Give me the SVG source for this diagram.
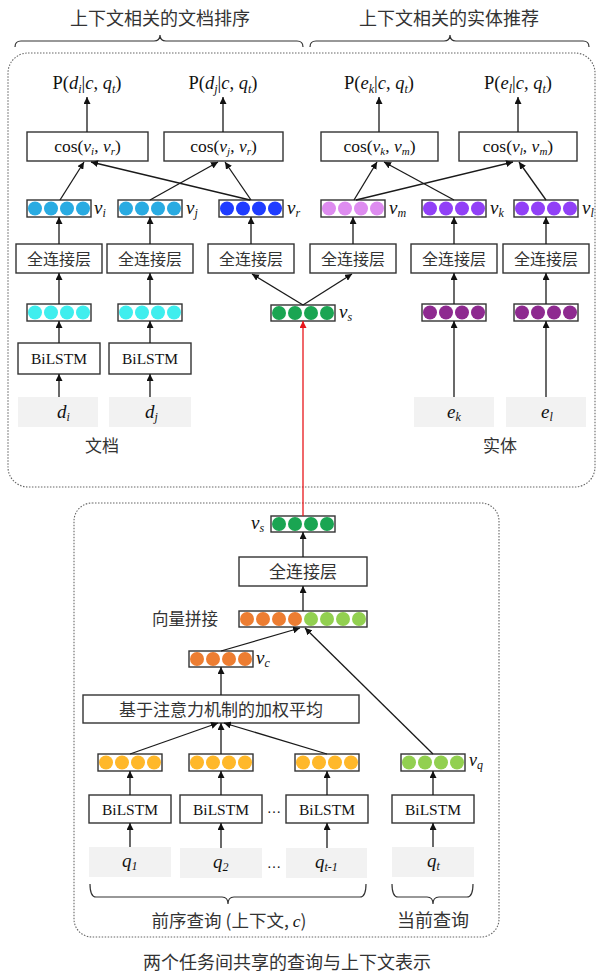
<svg xmlns="http://www.w3.org/2000/svg" width="598" height="975" viewBox="0 0 598 975">
<style>
.cn{font-family:"Noto Sans CJK SC","Noto Sans",sans-serif;fill:#333}
.m{font-family:"Liberation Serif",serif;fill:#111}
.i{font-style:italic}
.box{fill:#fff;stroke:#333;stroke-width:1.4}
.vec{fill:#fff;stroke:#333;stroke-width:1.4}
.inp{fill:#f2f2f2;stroke:none}
.ln{stroke:#1a1a1a;stroke-width:1.3;fill:none;marker-end:url(#ah)}
.dot{fill:none;stroke:#666;stroke-width:1.1;stroke-dasharray:1.5 1.5}
.br{fill:none;stroke:#333;stroke-width:1.2}
.c1{fill:#29abe2}.c2{fill:#1f3cff}.c3{fill:#3feeee}.c4{fill:#1aa552}
.c5{fill:#de8cf0}.c6{fill:#9140f7}.c7{fill:#8e2a90}.c8{fill:#ed7d31}
.c9{fill:#92d050}.c10{fill:#ffb82a}
</style>
<defs>
<marker id="ah" viewBox="0 0 10 10" refX="10" refY="5" markerWidth="7" markerHeight="7" markerUnits="userSpaceOnUse" orient="auto"><path d="M0,0 L10,5 L0,10 z" fill="#111"/></marker>
<marker id="ahr" viewBox="0 0 10 10" refX="10" refY="5" markerWidth="7" markerHeight="7" markerUnits="userSpaceOnUse" orient="auto"><path d="M0,0 L10,5 L0,10 z" fill="#e8161b"/></marker>
</defs>

<!-- frames and titles -->
<g id="frames">
<rect class="dot" x="8" y="53" width="587" height="434" rx="20"/>
<rect class="dot" x="74" y="503" width="425" height="434" rx="18"/>
<text class="cn" x="160" y="25" font-size="18" text-anchor="middle">上下文相关的文档排序</text>
<text class="cn" x="449" y="25" font-size="18" text-anchor="middle">上下文相关的实体推荐</text>
<path class="br" d="M15,47 Q15,41 21,41 L154,41 Q160,41 160,35 Q160,41 166,41 L297,41 Q303,41 303,47"/>
<path class="br" d="M310,47 Q310,41 316,41 L444,41 Q450,41 450,35 Q450,41 456,41 L583,41 Q589,41 589,47"/>
<text class="cn" x="102" y="452" font-size="17" text-anchor="middle">文档</text>
<text class="cn" x="500" y="452" font-size="17" text-anchor="middle">实体</text>
<path class="br" d="M90,884 Q90,897 96,897 L222,897 Q228,897 228,904 Q228,897 234,897 L360,897 Q366,897 366,884"/>
<path class="br" d="M392,884 Q392,897 398,897 L427,897 Q433,897 433,904 Q433,897 439,897 L467,897 Q473,897 473,884"/>
<text class="cn" x="229" y="927" font-size="17.5" text-anchor="middle">前序查询 (上下文, <tspan class="m i">c</tspan>)</text>
<text class="cn" x="433" y="927" font-size="18" text-anchor="middle">当前查询</text>
<text class="cn" x="287" y="969" font-size="18" text-anchor="middle">两个任务间共享的查询与上下文表示</text>
</g>

<!-- probability labels -->
<g id="p_di"><text class="m" x="87" y="89" font-size="18.5" text-anchor="middle">P(<tspan class="i">d</tspan><tspan class="i" font-size="12" dy="4">i</tspan><tspan dy="-4">|</tspan><tspan class="i">c</tspan>, <tspan class="i">q</tspan><tspan class="i" font-size="12" dy="4">t</tspan><tspan dy="-4">)</tspan></text></g>
<g id="p_dj"><text class="m" x="223" y="89" font-size="18.5" text-anchor="middle">P(<tspan class="i">d</tspan><tspan class="i" font-size="12" dy="4">j</tspan><tspan dy="-4">|</tspan><tspan class="i">c</tspan>, <tspan class="i">q</tspan><tspan class="i" font-size="12" dy="4">t</tspan><tspan dy="-4">)</tspan></text></g>
<g id="p_ek"><text class="m" x="379" y="89" font-size="18.5" text-anchor="middle">P(<tspan class="i">e</tspan><tspan class="i" font-size="12" dy="4">k</tspan><tspan dy="-4">|</tspan><tspan class="i">c</tspan>, <tspan class="i">q</tspan><tspan class="i" font-size="12" dy="4">t</tspan><tspan dy="-4">)</tspan></text></g>
<g id="p_el"><text class="m" x="518" y="89" font-size="18.5" text-anchor="middle">P(<tspan class="i">e</tspan><tspan class="i" font-size="12" dy="4">l</tspan><tspan dy="-4">|</tspan><tspan class="i">c</tspan>, <tspan class="i">q</tspan><tspan class="i" font-size="12" dy="4">t</tspan><tspan dy="-4">)</tspan></text></g>

<!-- cos boxes -->
<g id="cos1"><rect class="box" x="27" y="132" width="121" height="29"/><text class="m" x="87.5" y="152" font-size="17.5" text-anchor="middle">cos(<tspan class="i">v</tspan><tspan class="i" font-size="11" dy="3">i</tspan><tspan dy="-3">, </tspan><tspan class="i">v</tspan><tspan class="i" font-size="11" dy="3">r</tspan><tspan dy="-3">)</tspan></text></g>
<g id="cos2"><rect class="box" x="164" y="132" width="119" height="29"/><text class="m" x="223.5" y="152" font-size="17.5" text-anchor="middle">cos(<tspan class="i">v</tspan><tspan class="i" font-size="11" dy="3">j</tspan><tspan dy="-3">, </tspan><tspan class="i">v</tspan><tspan class="i" font-size="11" dy="3">r</tspan><tspan dy="-3">)</tspan></text></g>
<g id="cos3"><rect class="box" x="321" y="132" width="117" height="29"/><text class="m" x="379.5" y="152" font-size="17.5" text-anchor="middle">cos(<tspan class="i">v</tspan><tspan class="i" font-size="11" dy="3">k</tspan><tspan dy="-3">, </tspan><tspan class="i">v</tspan><tspan class="i" font-size="11" dy="3">m</tspan><tspan dy="-3">)</tspan></text></g>
<g id="cos4"><rect class="box" x="459" y="132" width="118" height="29"/><text class="m" x="518" y="152" font-size="17.5" text-anchor="middle">cos(<tspan class="i">v</tspan><tspan class="i" font-size="11" dy="3">l</tspan><tspan dy="-3">, </tspan><tspan class="i">v</tspan><tspan class="i" font-size="11" dy="3">m</tspan><tspan dy="-3">)</tspan></text></g>

<!-- upper vectors -->
<g id="vi"><rect class="vec" x="27" y="200" width="64" height="17"/><circle class="c1" cx="35" cy="208.5" r="7"/><circle class="c1" cx="51" cy="208.5" r="7"/><circle class="c1" cx="67" cy="208.5" r="7"/><circle class="c1" cx="83" cy="208.5" r="7"/><text class="m i" x="94" y="214" font-size="19">v<tspan font-size="12" dy="3">i</tspan></text></g>
<g id="vj"><rect class="vec" x="118" y="200" width="64" height="17"/><circle class="c1" cx="126" cy="208.5" r="7"/><circle class="c1" cx="142" cy="208.5" r="7"/><circle class="c1" cx="158" cy="208.5" r="7"/><circle class="c1" cx="174" cy="208.5" r="7"/><text class="m i" x="186" y="214" font-size="19">v<tspan font-size="12" dy="3">j</tspan></text></g>
<g id="vr"><rect class="vec" x="219" y="200" width="64" height="17"/><circle class="c2" cx="227" cy="208.5" r="7"/><circle class="c2" cx="243" cy="208.5" r="7"/><circle class="c2" cx="259" cy="208.5" r="7"/><circle class="c2" cx="275" cy="208.5" r="7"/><text class="m i" x="287" y="214" font-size="19">v<tspan font-size="12" dy="3">r</tspan></text></g>
<g id="vm"><rect class="vec" x="321" y="200" width="64" height="17"/><circle class="c5" cx="329" cy="208.5" r="7"/><circle class="c5" cx="345" cy="208.5" r="7"/><circle class="c5" cx="361" cy="208.5" r="7"/><circle class="c5" cx="377" cy="208.5" r="7"/><text class="m i" x="389" y="214" font-size="19">v<tspan font-size="12" dy="3">m</tspan></text></g>
<g id="vk"><rect class="vec" x="422" y="200" width="64" height="17"/><circle class="c6" cx="430" cy="208.5" r="7"/><circle class="c6" cx="446" cy="208.5" r="7"/><circle class="c6" cx="462" cy="208.5" r="7"/><circle class="c6" cx="478" cy="208.5" r="7"/><text class="m i" x="490" y="214" font-size="19">v<tspan font-size="12" dy="3">k</tspan></text></g>
<g id="vl"><rect class="vec" x="514" y="200" width="64" height="17"/><circle class="c6" cx="522" cy="208.5" r="7"/><circle class="c6" cx="538" cy="208.5" r="7"/><circle class="c6" cx="554" cy="208.5" r="7"/><circle class="c6" cx="570" cy="208.5" r="7"/><text class="m i" x="582" y="214" font-size="19">v<tspan font-size="12" dy="3">l</tspan></text></g>

<!-- upper FC layers -->
<g id="fc_i"><rect class="box" x="16" y="244" width="86" height="29"/><text class="cn" x="59" y="264.5" font-size="16" text-anchor="middle">全连接层</text></g>
<g id="fc_j"><rect class="box" x="107" y="244" width="86" height="29"/><text class="cn" x="150" y="264.5" font-size="16" text-anchor="middle">全连接层</text></g>
<g id="fc_r"><rect class="box" x="208" y="244" width="86" height="29"/><text class="cn" x="251" y="264.5" font-size="16" text-anchor="middle">全连接层</text></g>
<g id="fc_m"><rect class="box" x="310" y="244" width="86" height="29"/><text class="cn" x="353" y="264.5" font-size="16" text-anchor="middle">全连接层</text></g>
<g id="fc_k"><rect class="box" x="411" y="244" width="86" height="29"/><text class="cn" x="454" y="264.5" font-size="16" text-anchor="middle">全连接层</text></g>
<g id="fc_l"><rect class="box" x="503" y="244" width="86" height="29"/><text class="cn" x="546" y="264.5" font-size="16" text-anchor="middle">全连接层</text></g>

<!-- upper embeddings -->
<g id="hd_i"><rect class="vec" x="27" y="304" width="64" height="17"/><circle class="c3" cx="35" cy="312.5" r="7"/><circle class="c3" cx="51" cy="312.5" r="7"/><circle class="c3" cx="67" cy="312.5" r="7"/><circle class="c3" cx="83" cy="312.5" r="7"/></g>
<g id="hd_j"><rect class="vec" x="118" y="304" width="64" height="17"/><circle class="c3" cx="126" cy="312.5" r="7"/><circle class="c3" cx="142" cy="312.5" r="7"/><circle class="c3" cx="158" cy="312.5" r="7"/><circle class="c3" cx="174" cy="312.5" r="7"/></g>
<g id="vs_top"><rect class="vec" x="271" y="305" width="64" height="16"/><circle class="c4" cx="279" cy="313" r="7"/><circle class="c4" cx="295" cy="313" r="7"/><circle class="c4" cx="311" cy="313" r="7"/><circle class="c4" cx="327" cy="313" r="7"/><text class="m i" x="339" y="318" font-size="19">v<tspan font-size="12" dy="3">s</tspan></text></g>
<g id="he_k"><rect class="vec" x="422" y="304" width="64" height="17"/><circle class="c7" cx="430" cy="312.5" r="7"/><circle class="c7" cx="446" cy="312.5" r="7"/><circle class="c7" cx="462" cy="312.5" r="7"/><circle class="c7" cx="478" cy="312.5" r="7"/></g>
<g id="he_l"><rect class="vec" x="514" y="304" width="64" height="17"/><circle class="c7" cx="522" cy="312.5" r="7"/><circle class="c7" cx="538" cy="312.5" r="7"/><circle class="c7" cx="554" cy="312.5" r="7"/><circle class="c7" cx="570" cy="312.5" r="7"/></g>

<!-- upper BiLSTM and inputs -->
<g id="bl_i"><rect class="box" x="18" y="343" width="82" height="31"/><text class="m" x="59" y="364" font-size="15.5" text-anchor="middle">BiLSTM</text></g>
<g id="bl_j"><rect class="box" x="109" y="343" width="82" height="31"/><text class="m" x="150" y="364" font-size="15.5" text-anchor="middle">BiLSTM</text></g>
<g id="d_i"><rect class="inp" x="18" y="397" width="80" height="30"/><text class="m i" x="57" y="418" font-size="19">d<tspan font-size="12" dy="3">i</tspan></text></g>
<g id="d_j"><rect class="inp" x="109" y="397" width="82" height="30"/><text class="m i" x="145" y="418" font-size="19">d<tspan font-size="12" dy="3">j</tspan></text></g>
<g id="e_k"><rect class="inp" x="414" y="397" width="80" height="30"/><text class="m i" x="447" y="418" font-size="19">e<tspan font-size="12" dy="3">k</tspan></text></g>
<g id="e_l"><rect class="inp" x="506" y="397" width="80" height="30"/><text class="m i" x="541" y="418" font-size="19">e<tspan font-size="12" dy="3">l</tspan></text></g>

<!-- lower section -->
<g id="vs_bot"><rect class="vec" x="271" y="516" width="64" height="16"/><circle class="c4" cx="279" cy="524" r="7"/><circle class="c4" cx="295" cy="524" r="7"/><circle class="c4" cx="311" cy="524" r="7"/><circle class="c4" cx="327" cy="524" r="7"/><text class="m i" x="251" y="529" font-size="19">v<tspan font-size="12" dy="3">s</tspan></text></g>
<g id="fc_low"><rect class="box" x="239" y="557" width="128" height="29"/><text class="cn" x="303" y="578" font-size="17" text-anchor="middle">全连接层</text></g>
<g id="concat"><rect class="vec" x="239" y="611" width="128" height="16"/><circle class="c8" cx="247" cy="619" r="7"/><circle class="c8" cx="263" cy="619" r="7"/><circle class="c8" cx="279" cy="619" r="7"/><circle class="c8" cx="295" cy="619" r="7"/><circle class="c9" cx="311" cy="619" r="7"/><circle class="c9" cx="327" cy="619" r="7"/><circle class="c9" cx="343" cy="619" r="7"/><circle class="c9" cx="359" cy="619" r="7"/><text class="cn" x="185" y="625" font-size="16.5" text-anchor="middle">向量拼接</text></g>
<g id="vc"><rect class="vec" x="189" y="651" width="64" height="16"/><circle class="c8" cx="197" cy="659" r="7"/><circle class="c8" cx="213" cy="659" r="7"/><circle class="c8" cx="229" cy="659" r="7"/><circle class="c8" cx="245" cy="659" r="7"/><text class="m i" x="256" y="664" font-size="19">v<tspan font-size="12" dy="3">c</tspan></text></g>
<g id="attn"><rect class="box" x="83" y="695" width="276" height="28"/><text class="cn" x="221" y="715.5" font-size="17" text-anchor="middle">基于注意力机制的加权平均</text></g>

<g id="h1"><rect class="vec" x="98" y="754" width="64" height="17"/><circle class="c10" cx="106" cy="762.5" r="7"/><circle class="c10" cx="122" cy="762.5" r="7"/><circle class="c10" cx="138" cy="762.5" r="7"/><circle class="c10" cx="154" cy="762.5" r="7"/></g>
<g id="h2"><rect class="vec" x="189" y="754" width="64" height="17"/><circle class="c10" cx="197" cy="762.5" r="7"/><circle class="c10" cx="213" cy="762.5" r="7"/><circle class="c10" cx="229" cy="762.5" r="7"/><circle class="c10" cx="245" cy="762.5" r="7"/></g>
<g id="h3"><rect class="vec" x="295" y="754" width="64" height="17"/><circle class="c10" cx="303" cy="762.5" r="7"/><circle class="c10" cx="319" cy="762.5" r="7"/><circle class="c10" cx="335" cy="762.5" r="7"/><circle class="c10" cx="351" cy="762.5" r="7"/></g>
<g id="vq"><rect class="vec" x="401" y="754" width="64" height="17"/><circle class="c9" cx="409" cy="762.5" r="7"/><circle class="c9" cx="425" cy="762.5" r="7"/><circle class="c9" cx="441" cy="762.5" r="7"/><circle class="c9" cx="457" cy="762.5" r="7"/><text class="m i" x="469" y="766" font-size="18">v<tspan font-size="12" dy="3">q</tspan></text></g>

<g id="bl1"><rect class="box" x="89" y="795" width="82" height="28"/><text class="m" x="130" y="814.5" font-size="15.5" text-anchor="middle">BiLSTM</text></g>
<g id="bl2"><rect class="box" x="180" y="795" width="82" height="28"/><text class="m" x="221" y="814.5" font-size="15.5" text-anchor="middle">BiLSTM</text></g>
<g id="bl3"><rect class="box" x="286" y="795" width="82" height="28"/><text class="m" x="327" y="814.5" font-size="15.5" text-anchor="middle">BiLSTM</text></g>
<g id="bl4"><rect class="box" x="392" y="795" width="82" height="28"/><text class="m" x="433" y="814.5" font-size="15.5" text-anchor="middle">BiLSTM</text></g>
<text class="m" x="274" y="813" font-size="14" text-anchor="middle">…</text>

<g id="q1"><rect class="inp" x="89" y="847" width="82" height="30"/><text class="m i" x="122" y="867" font-size="19">q<tspan font-size="12" dy="3">1</tspan></text></g>
<g id="q2"><rect class="inp" x="180" y="848" width="82" height="30"/><text class="m i" x="213" y="868" font-size="19">q<tspan font-size="12" dy="3">2</tspan></text></g>
<g id="qt1"><rect class="inp" x="286" y="848" width="81" height="30"/><text class="m i" x="315" y="868" font-size="19">q<tspan font-size="12" dy="3">t-1</tspan></text></g>
<g id="qt"><rect class="inp" x="392" y="847" width="82" height="30"/><text class="m i" x="427" y="867" font-size="19">q<tspan font-size="12" dy="3">t</tspan></text></g>
<text class="m" x="274" y="868" font-size="14" text-anchor="middle">…</text>

<!-- connectors -->
<g id="connectors">
<line class="ln" x1="87" y1="132" x2="87" y2="97"/>
<line class="ln" x1="223" y1="132" x2="223" y2="97"/>
<line class="ln" x1="379" y1="132" x2="379" y2="97"/>
<line class="ln" x1="518" y1="132" x2="518" y2="97"/>
<line class="ln" x1="60" y1="200" x2="84" y2="162"/>
<line class="ln" x1="250" y1="200" x2="91" y2="162"/>
<line class="ln" x1="150" y1="200" x2="218" y2="162"/>
<line class="ln" x1="251" y1="200" x2="225" y2="162"/>
<line class="ln" x1="354" y1="200" x2="377" y2="162"/>
<line class="ln" x1="454" y1="200" x2="384" y2="162"/>
<line class="ln" x1="356" y1="200" x2="513" y2="162"/>
<line class="ln" x1="546" y1="200" x2="519" y2="162"/>
<line class="ln" x1="59" y1="244" x2="59" y2="217"/>
<line class="ln" x1="150" y1="244" x2="150" y2="217"/>
<line class="ln" x1="251" y1="244" x2="251" y2="217"/>
<line class="ln" x1="353" y1="244" x2="353" y2="217"/>
<line class="ln" x1="454" y1="244" x2="454" y2="217"/>
<line class="ln" x1="546" y1="244" x2="546" y2="217"/>
<line class="ln" x1="59" y1="304" x2="59" y2="273"/>
<line class="ln" x1="150" y1="304" x2="150" y2="273"/>
<line class="ln" x1="303" y1="305" x2="252" y2="274"/>
<line class="ln" x1="303" y1="305" x2="352" y2="274"/>
<line class="ln" x1="454" y1="304" x2="454" y2="273"/>
<line class="ln" x1="546" y1="304" x2="546" y2="273"/>
<line class="ln" x1="59" y1="343" x2="59" y2="321"/>
<line class="ln" x1="150" y1="343" x2="150" y2="321"/>
<line class="ln" x1="59" y1="397" x2="59" y2="374"/>
<line class="ln" x1="150" y1="397" x2="150" y2="374"/>
<line class="ln" x1="454" y1="397" x2="454" y2="321"/>
<line class="ln" x1="546" y1="397" x2="546" y2="321"/>
<line x1="303" y1="516" x2="303" y2="321" stroke="#e8161b" stroke-width="1.3" marker-end="url(#ahr)"/>
<line class="ln" x1="303" y1="557" x2="303" y2="532"/>
<line class="ln" x1="303" y1="611" x2="303" y2="586"/>
<line class="ln" x1="221" y1="651" x2="300" y2="628"/>
<line class="ln" x1="433" y1="754" x2="305" y2="628"/>
<line class="ln" x1="221" y1="695" x2="221" y2="667"/>
<line class="ln" x1="130" y1="754" x2="218" y2="723"/>
<line class="ln" x1="221" y1="754" x2="221" y2="723"/>
<line class="ln" x1="327" y1="754" x2="224" y2="723"/>
<line class="ln" x1="130" y1="795" x2="130" y2="771"/>
<line class="ln" x1="221" y1="795" x2="221" y2="771"/>
<line class="ln" x1="327" y1="795" x2="327" y2="771"/>
<line class="ln" x1="433" y1="795" x2="433" y2="771"/>
<line class="ln" x1="130" y1="847" x2="130" y2="823"/>
<line class="ln" x1="221" y1="848" x2="221" y2="823"/>
<line class="ln" x1="327" y1="848" x2="327" y2="823"/>
<line class="ln" x1="433" y1="847" x2="433" y2="823"/>
</g>
</svg>
